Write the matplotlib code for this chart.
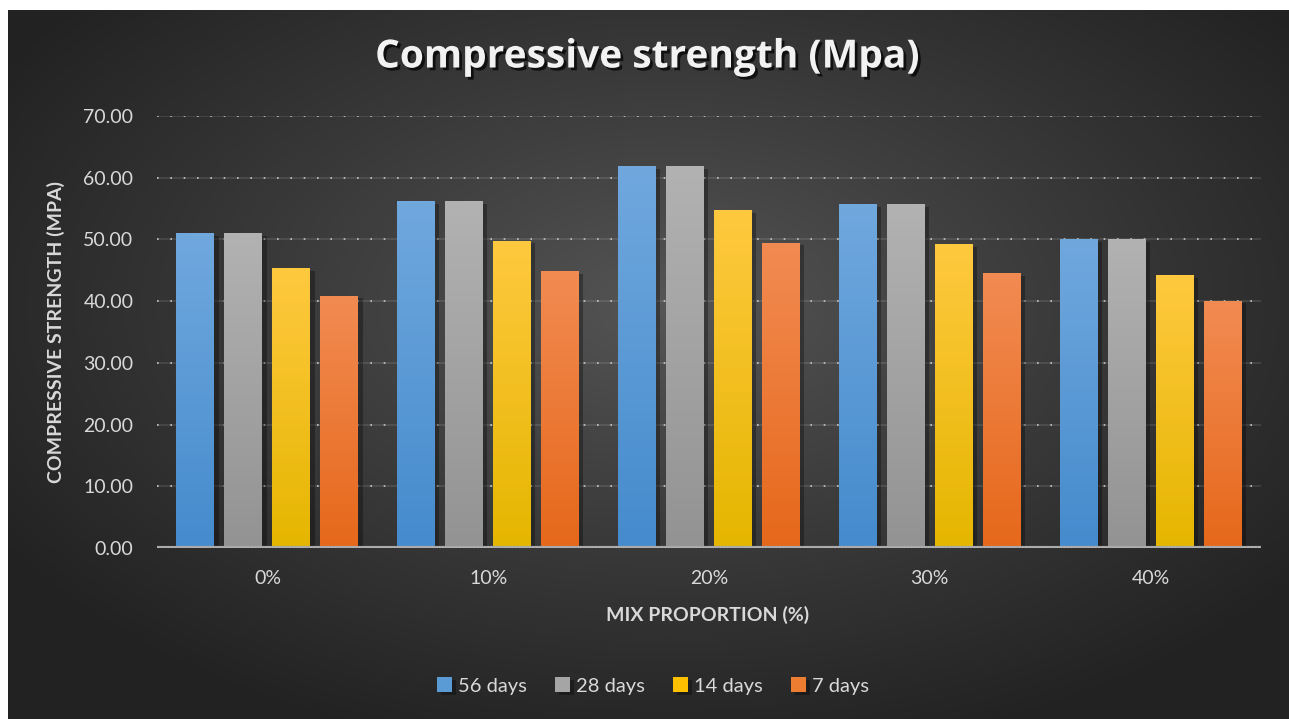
import numpy as np
import matplotlib.pyplot as plt
import matplotlib.patheffects as pe
from matplotlib.colors import to_rgb

# data
categories = ['0%', '10%', '20%', '30%', '40%']
series_names = ['56 days', '28 days', '14 days', '7 days']
days_56 = [51.0, 56.2, 61.9, 55.7, 50.1]
days_28 = [51.0, 56.2, 61.9, 55.7, 50.1]
days_14 = [45.3, 49.8, 54.8, 49.3, 44.2]
days_7 = [40.9, 44.9, 49.5, 44.5, 40.1]
series_values = [days_56, days_28, days_14, days_7]
yticks = [0, 10, 20, 30, 40, 50, 60, 70]

# colour gradient per series (top, bottom)
grad_colors = [('#70a8de', '#458bcd'), ('#b2b2b2', '#939393'),
               ('#ffc93f', '#e5b600'), ('#f28b52', '#e6681b')]
mid_colors = ['#5b9bd5', '#a5a5a5', '#ffc000', '#ed7d31']
text_col = '#d9d9d9'
plt.rcParams['font.family'] = ['Lato', 'DejaVu Sans']

W, H = 1289, 719
fig = plt.figure(figsize=(W / 100, H / 100), dpi=100, facecolor='white')

# radial gradient background (white strip on left / top like the reference)
bg = fig.add_axes([8 / W, 0, 1 - 8 / W, 1 - 10 / H])
bg.set_axis_off()
gy, gx = np.mgrid[0:360, 0:640]
cx, cy = 330, 150
d = np.sqrt(((gx - cx) / 640) ** 2 + ((gy - cy) / 360) ** 2 * 0.9)
t = np.clip(d / 0.62, 0, 1) ** 0.9
c0 = np.array([0x56, 0x56, 0x56]) / 255
c1 = np.array([0x22, 0x22, 0x22]) / 255
img = c0[None, None, :] * (1 - t[..., None]) + c1[None, None, :] * t[..., None]
bg.imshow(img, aspect='auto', extent=[0, 1, 0, 1], origin='upper')
bg.set_xlim(0, 1)
bg.set_ylim(0, 1)

ax = fig.add_axes([157 / W, 1 - 548 / H, (1261 - 157) / W, (548 - 116) / H])
ax.patch.set_alpha(0)
ax.set_xlim(-0.5, len(categories) - 0.5)
ax.set_ylim(0, 70)

x = np.arange(len(categories))
bw = 0.172
step = 0.2175
offsets = (np.arange(4) - 1.5) * step

grad = np.linspace(0, 1, 100)[:, None]
handles = []
for i, (name, vals) in enumerate(zip(series_names, series_values)):
    bars = ax.bar(x + offsets[i], vals, width=bw, color=mid_colors[i],
                  label=name, zorder=3,
                  path_effects=[pe.SimplePatchShadow(offset=(3, -2), shadow_rgbFace='black', alpha=0.3),
                                pe.Normal()])
    top = np.array(to_rgb(grad_colors[i][0]))
    bot = np.array(to_rgb(grad_colors[i][1]))
    gimg = top[None, None, :] * (1 - grad[..., None]) + bot[None, None, :] * grad[..., None]
    for b in bars:
        im = ax.imshow(gimg, aspect='auto', zorder=4,
                       extent=[b.get_x(), b.get_x() + b.get_width(), 0, b.get_height()])
        im.set_clip_path(b)
    handles.append(bars)

# gridlines: faint solid line with sparse dotted light line on top
for yv in yticks[1:]:
    ax.axhline(yv, color='white', alpha=0.1, lw=1.5, zorder=1)
    ax.axhline(yv, color='#c8c8c8', lw=1.2, ls=(0, (1, 7)), zorder=2)
ax.axhline(0, color='#a8a8a8', lw=3, zorder=5)
ax.axhline(0, color='white', lw=1, ls=(0, (1, 1.5)), zorder=6)

ax.set_xticks(x)
ax.set_xticklabels(categories)
ax.set_yticks(yticks)
ax.set_yticklabels([f'{v:.2f}' for v in yticks])
ax.tick_params(axis='both', length=0, colors=text_col, labelsize=14)
ax.tick_params(axis='y', pad=17)
ax.tick_params(axis='x', pad=16)
for s in ax.spines.values():
    s.set_visible(False)

fig.text(647 / W, 1 - 57 / H, 'Compressive strength (Mpa)', ha='center', va='center',
         fontsize=28, fontweight='bold', color='#f2f2f2',
         family=['Open Sans', 'DejaVu Sans'],
         path_effects=[pe.withSimplePatchShadow(offset=(2, -2), shadow_rgbFace='black', alpha=0.7)])
fig.text(56 / W, 1 - 332 / H, 'COMPRESSIVE STRENGTH (MPA)', rotation=90, ha='center',
         va='center', fontsize=14, fontweight='bold', color=text_col)
fig.text(708 / W, 1 - 615 / H, 'MIX PROPORTION (%)', ha='center', va='center',
         fontsize=14, fontweight='bold', color=text_col)

leg = ax.legend(handles=handles, labels=series_names, loc='center',
                bbox_to_anchor=(653 / W, 1 - 686 / H), bbox_transform=fig.transFigure,
                ncol=4, frameon=False, fontsize=14.5, handlelength=0.75, handleheight=0.75,
                handletextpad=0.3, columnspacing=1.4, labelcolor=text_col)

fig.savefig('out.png', dpi=100, facecolor='white')
